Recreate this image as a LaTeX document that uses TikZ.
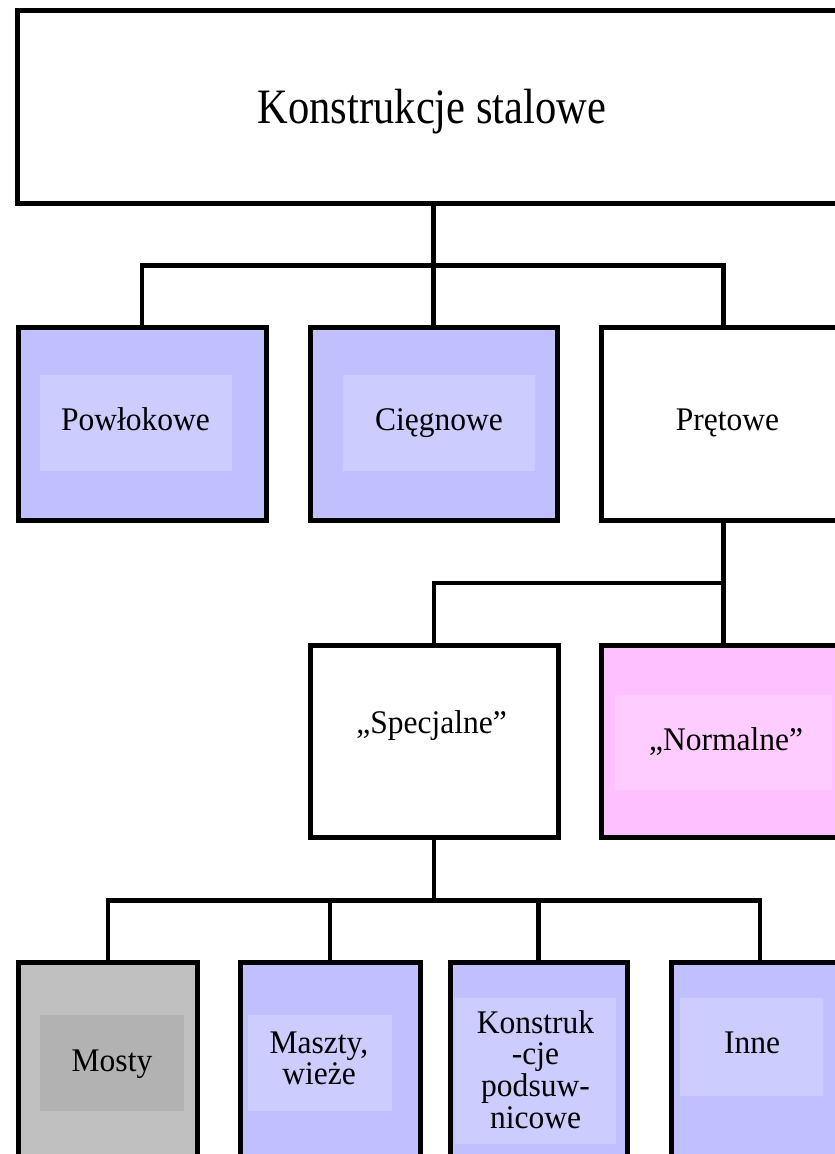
\documentclass[tikz,border=0pt]{standalone}
\usepackage{fontspec}
\setmainfont{Liberation Serif}
\definecolor{blueF}{HTML}{C0C0FF}
\definecolor{blueI}{HTML}{CCCCFF}
\definecolor{pinkF}{HTML}{FFC0FF}
\definecolor{pinkI}{HTML}{FFCCFF}
\definecolor{grayF}{HTML}{C0C0C0}
\definecolor{grayI}{HTML}{B2B2B2}
\newcommand{\narrowtxt}[1]{\scalebox{0.955}[1]{#1}}
\begin{document}
\begin{tikzpicture}[x=1pt,y=-1pt,
  box/.style={draw=black, line width=5pt, inner sep=0pt, outer sep=0pt, rectangle},
  innerbox/.style={draw=none, inner sep=0pt, outer sep=0pt, rectangle},
  conn/.style={draw=black, line width=4.5pt},
  lbl/.style={inner sep=0pt, outer sep=0pt, font=\fontsize{33}{31.5}\selectfont, anchor=base},
]
\clip (0,0) rectangle (835,1154);
\fill[white] (0,0) rectangle (835,1154);

% bus levels
\coordinate (bus1) at (433,265.5);
\coordinate (bus2) at (433,583);
\coordinate (bus3) at (433,900.5);

% boxes
\node[box, fill=white, minimum width=831.5pt, minimum height=193pt] (top) at (433.25,106.5) {};

\node[box, fill=blueF, minimum width=248pt, minimum height=192.5pt] (pow) at (142,424) {};
\node[box, fill=blueF, minimum width=247pt, minimum height=192.5pt] (cie) at (433.5,424) {};
\node[box, fill=white, minimum width=243.5pt, minimum height=192.5pt] (pre) at (723.25,424) {};
\node[innerbox, fill=blueI, minimum width=192pt, minimum height=96pt] (powin) at (136,423) {};
\node[innerbox, fill=blueI, minimum width=192pt, minimum height=96pt] (ciein) at (439,423) {};

\node[box, fill=white, minimum width=248pt, minimum height=192pt] (spec) at (434,741) {};
\node[box, fill=pinkF, minimum width=243.5pt, minimum height=192pt] (norm) at (723.25,741) {};
\node[innerbox, fill=pinkI, minimum width=217pt, minimum height=95pt] (normin) at (723.5,742.5) {};

\node[box, fill=grayF, minimum width=178.5pt, minimum height=217.5pt] (mosty) at (107.75,1071.25) {};
\node[box, fill=blueF, minimum width=180pt, minimum height=217.5pt] (maszty) at (330,1071.25) {};
\node[box, fill=blueF, minimum width=177pt, minimum height=217.5pt] (kon) at (538.5,1071.25) {};
\node[box, fill=blueF, minimum width=178pt, minimum height=217.5pt] (inne) at (760,1071.25) {};
\node[innerbox, fill=grayI, minimum width=144pt, minimum height=96pt] (mostyin) at (112,1063) {};
\node[innerbox, fill=blueI, minimum width=144pt, minimum height=96pt] (masztyin) at (320,1063) {};
\node[innerbox, fill=blueI, minimum width=161pt, minimum height=146pt] (konin) at (535.5,1071) {};
\node[innerbox, fill=blueI, minimum width=143pt, minimum height=98pt] (innein) at (751.5,1047) {};

% connectors
\draw[conn] (top.south) -- (top.south |- cie.north);
\draw[conn] (pow.north) -- (pow.north |- bus1) -- (pre.north |- bus1) -- (pre.north);

\draw[conn] (pre.south) -- (norm.north);
\draw[conn] (spec.north) -- (spec.north |- bus2) -- (pre.south |- bus2);

\draw[conn] (spec.south) -- (spec.south |- bus3);
\draw[conn] (mosty.north) -- (mosty.north |- bus3) -- (inne.north |- bus3) -- (inne.north);
\draw[conn] (maszty.north) -- (maszty.north |- bus3);
\draw[conn] (kon.north) -- (kon.north |- bus3);

% labels
\node[lbl] (t0) at (432,123) {\fontsize{49.5}{51}\selectfont\scalebox{0.86}[1]{Konstrukcje stalowe}};
\node[lbl] (t1) at (135.5,430) {\narrowtxt{Powłokowe}};
\node[lbl] (t2) at (439,430) {\narrowtxt{Cięgnowe}};
\node[lbl] (t3) at (727.5,430) {\narrowtxt{Prętowe}};
\node[lbl] (t4) at (431.5,733) {\narrowtxt{„Specjalne”}};
\node[lbl] (t5) at (726,750) {\narrowtxt{„Normalne”}};
\node[lbl] (t6) at (112,1071) {\narrowtxt{Mosty}};
\node[lbl] (t7) at (319,1053) {\narrowtxt{\begin{tabular}[t]{@{}c@{}}Maszty,\\wieże\end{tabular}}};
\node[lbl] (t8) at (535.5,1033) {\narrowtxt{\begin{tabular}[t]{@{}c@{}}Konstruk\\-cje\\podsuw-\\nicowe\end{tabular}}};
\node[lbl] (t9) at (752,1053) {\narrowtxt{Inne}};
\end{tikzpicture}
\end{document}
